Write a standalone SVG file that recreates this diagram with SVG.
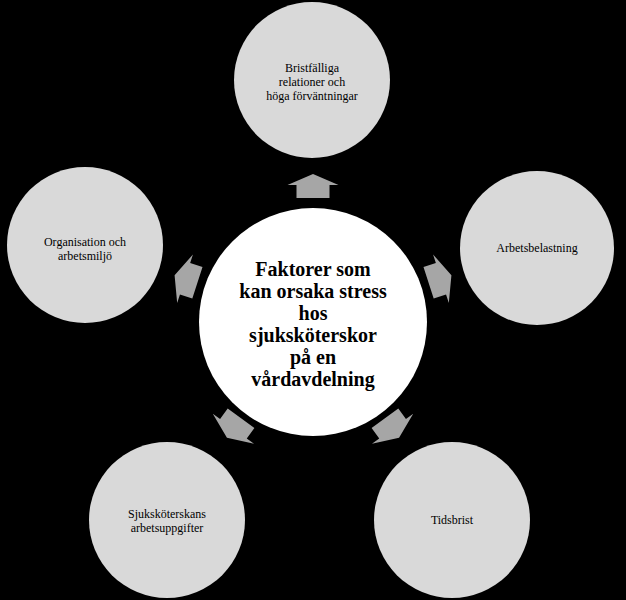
<svg xmlns="http://www.w3.org/2000/svg" width="626" height="600" viewBox="0 0 626 600">
<style>
.n{fill:#d9d9d9}
.t{font-family:"Liberation Serif",serif;font-size:12px;fill:#000;text-anchor:middle}
.c{font-family:"Liberation Serif",serif;font-size:20px;font-weight:bold;fill:#000;text-anchor:middle}
.a{fill:#a6a6a6}
</style>
<defs><polygon id="arr" points="-12,-16.5 1,-16.5 1,-25.5 12,0 1,25.5 1,16.5 -12,16.5"/></defs>
<rect width="626" height="600" fill="#000"/>
<g id="connectors">
<use href="#arr" class="a" transform="translate(313,186) rotate(-90)"/>
<use href="#arr" class="a" transform="translate(440,279) rotate(-18)"/>
<use href="#arr" class="a" transform="translate(392,428) rotate(54)"/>
<use href="#arr" class="a" transform="translate(234,428) rotate(126)"/>
<use href="#arr" class="a" transform="translate(186,279) rotate(198)"/>
</g>
<g id="center"><circle cx="313" cy="322" r="114" fill="#fff"/>
<text class="c"><tspan x="313" y="276">Faktorer som</tspan><tspan x="313" y="298">kan orsaka stress</tspan><tspan x="313" y="320">hos</tspan><tspan x="313" y="342">sjuksköterskor</tspan><tspan x="313" y="364">på en</tspan><tspan x="313" y="386">vårdavdelning</tspan></text></g>
<g id="top"><circle class="n" cx="312" cy="80" r="78"/><text class="t"><tspan x="312" y="72">Bristfälliga</tspan><tspan x="312" y="86">relationer och</tspan><tspan x="312" y="100">höga förväntningar</tspan></text></g>
<g id="right"><circle class="n" cx="537" cy="248" r="77"/><text class="t" x="537" y="252">Arbetsbelastning</text></g>
<g id="bottomright"><circle class="n" cx="452" cy="520" r="78"/><text class="t" x="452" y="524">Tidsbrist</text></g>
<g id="bottomleft"><circle class="n" cx="167" cy="520" r="78"/><text class="t"><tspan x="167" y="518">Sjuksköterskans</tspan><tspan x="167" y="532">arbetsuppgifter</tspan></text></g>
<g id="left"><circle class="n" cx="85" cy="245" r="78"/><text class="t"><tspan x="85" y="246">Organisation  och</tspan><tspan x="85" y="260">arbetsmiljö</tspan></text></g>
</svg>
